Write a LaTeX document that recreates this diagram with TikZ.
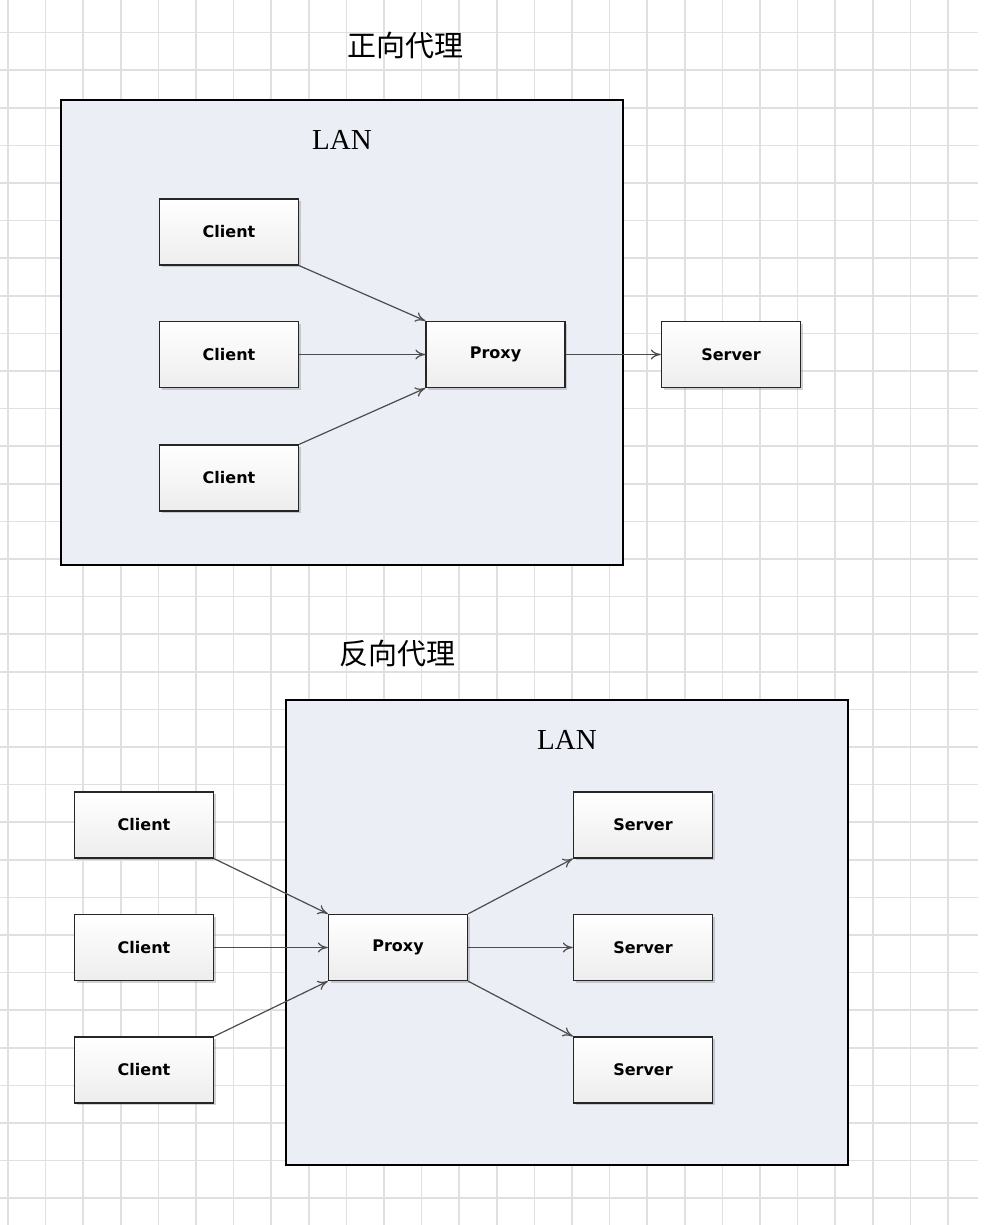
\documentclass[tikz,border=0pt]{standalone}
\usepackage{fontspec}
\setmainfont{Liberation Serif}
\newfontfamily\cjk{Noto Sans CJK SC}
\newfontfamily\bx{DejaVu Sans}
\usetikzlibrary{arrows.meta,shadows}
\definecolor{lanfill}{RGB}{236,238,246}
\begin{document}
\begin{tikzpicture}[x=1pt,y=-1pt,
  lan/.style={draw=black,line width=1.6pt,fill=lanfill},
  box/.style={draw=black!85,line width=1.3pt,top color=white,bottom color=gray!14,
    drop shadow={shadow xshift=2pt,shadow yshift=-2pt,opacity=0.35},
    minimum width=139pt,minimum height=66pt,inner sep=0pt,font=\bx\bfseries\fontsize{16}{18}\selectfont},
  ttl/.style={font=\cjk\fontsize{29}{32}\selectfont},
  lbl/.style={font=\fontsize{29}{32}\selectfont},
  arr/.style={-{To[length=10pt,width=10pt]},draw=black!70,line width=1.2pt}]
\useasboundingbox (0,0) rectangle (1000,1225);
\fill[white] (0,0) rectangle (1000,1225);
\foreach \i in {0,...,25} \draw[black!12,line width=1.5pt] (8+37.6*\i,0) -- (8+37.6*\i,1225);
\foreach \i in {0,...,32} \draw[black!12,line width=1.5pt] (0,-5+37.6*\i) -- (978,-5+37.6*\i);
% top
\node[ttl] (t1) at (405,45) {正向代理};
\draw[lan] (61,100) rectangle (623,565);
\node[lbl] (l1) at (342,140) {LAN};
\node[box] (c1) at (229,232) {Client};
\node[box] (c2) at (229,354.5) {Client};
\node[box] (c3) at (229,478) {Client};
\node[box] (p1) at (495.5,354.5) {Proxy};
\node[box] (s1) at (731,354.5) {Server};
\draw[arr] (c1.south east) -- (p1.north west);
\draw[arr] (c2.east) -- (p1.west);
\draw[arr] (c3.north east) -- (p1.south west);
\draw[arr] (p1.east) -- (s1.west);
% bottom
\node[ttl] (t2) at (397,653) {反向代理};
\draw[lan] (286,700) rectangle (848,1165);
\node[lbl] (l2) at (567,740) {LAN};
\node[box] (d1) at (144,825) {Client};
\node[box] (d2) at (144,947.5) {Client};
\node[box] (d3) at (144,1070) {Client};
\node[box] (p2) at (398,947.5) {Proxy};
\node[box] (e1) at (643,825) {Server};
\node[box] (e2) at (643,947.5) {Server};
\node[box] (e3) at (643,1070) {Server};
\draw[arr] (d1.south east) -- (p2.north west);
\draw[arr] (d2.east) -- (p2.west);
\draw[arr] (d3.north east) -- (p2.south west);
\draw[arr] (p2.north east) -- (e1.south west);
\draw[arr] (p2.east) -- (e2.west);
\draw[arr] (p2.south east) -- (e3.north west);
\end{tikzpicture}
\end{document}
